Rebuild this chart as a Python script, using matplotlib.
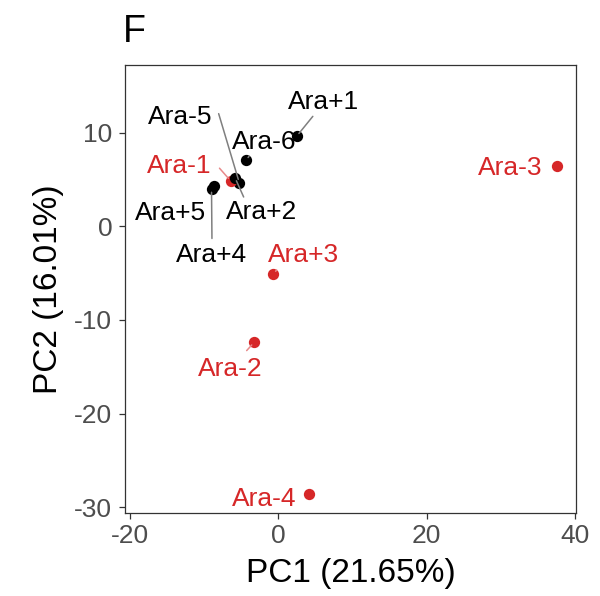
import matplotlib
matplotlib.use('Agg')
import matplotlib.pyplot as plt

plt.rcParams['font.family'] = ['Liberation Sans', 'DejaVu Sans']

# PCA scores per population
names = ['Ara+1', 'Ara-6', 'Ara-5', 'Ara-1', 'Ara+2', 'Ara+5', 'Ara+4', 'Ara+3', 'Ara-3', 'Ara-2', 'Ara-4']
pc1 = [2.48, -4.35, -5.26, -6.41, -5.84, -8.67, -9.0, -0.67, 37.5, -3.27, 4.14]
pc2 = [9.65, 7.07, 4.68, 4.86, 5.22, 4.34, 4.02, -5.07, 6.43, -12.4, -28.6]
highlight = [False, False, False, True, False, False, False, True, True, True, True]

# repelled label positions (text centre x, baseline y)
label_x = [6.1, -1.93, -13.25, -13.4, -2.2, -14.5, -8.94, 3.46, 31.3, -6.44, -1.86]
label_y = [12.6, 8.33, 11.0, 5.71, 0.82, 0.64, -3.83, -3.83, 5.47, -15.97, -29.9]
# where the leader segment leaves the label box (None = no segment)
seg_from = [(0.38, 0), (0.30, 0), (1.1, 0.62), (1.13, 0.41), (0.26, 1.0), None,
            (0.5, 1.2), (0.12, -0.1), None, (0.75, 1.26), None]

x_ticks = [-20, 0, 20, 40]
y_ticks = [-30, -20, -10, 0, 10]

RED = '#D62728'

fig = plt.figure(figsize=(6, 5.96), dpi=100)
ax = fig.add_axes([0.209, 0.1398, 0.751, 0.751])

for i, name in enumerate(names):
    col = RED if highlight[i] else 'black'
    seg_col = '#E8898A' if highlight[i] else '#7F7F7F'
    ax.scatter(pc1[i], pc2[i], s=66, color=col, zorder=3, linewidths=0)
    if seg_from[i] is not None:
        ax.annotate(name, xy=(pc1[i], pc2[i]), xytext=(label_x[i], label_y[i]),
                    textcoords='data', ha='center', va='baseline', fontsize=19, color=col,
                    arrowprops=dict(arrowstyle='-', color=seg_col, lw=1.1,
                                    relpos=seg_from[i], shrinkA=0, shrinkB=2.5),
                    zorder=4)
    else:
        ax.text(label_x[i], label_y[i], name, ha='center', va='baseline',
                fontsize=19, color=col, zorder=4)

ax.set_xlim(-20.6, 40.1)
ax.set_ylim(-30.6, 17.25)
ax.set_xticks(x_ticks)
ax.set_yticks(y_ticks)
ax.set_xticklabels([str(t) for t in x_ticks])
ax.set_yticklabels([str(t) for t in y_ticks])

for spine in ax.spines.values():
    spine.set_color('#333333')
    spine.set_linewidth(0.9)
ax.tick_params(axis='both', length=4.5, width=0.9, color='#333333',
               labelcolor='#4D4D4D', labelsize=19)
ax.tick_params(axis='x', pad=3.6)
ax.tick_params(axis='y', pad=5)

ax.set_xlabel('PC1 (21.65%)', fontsize=24, labelpad=7)
ax.set_ylabel('PC2 (16.01%)', fontsize=24, labelpad=7)

fig.text(123 / 600, 1 - 42 / 596, 'F', fontsize=27, ha='left', va='baseline')

fig.savefig('out.png', dpi=100)
plt.close(fig)
